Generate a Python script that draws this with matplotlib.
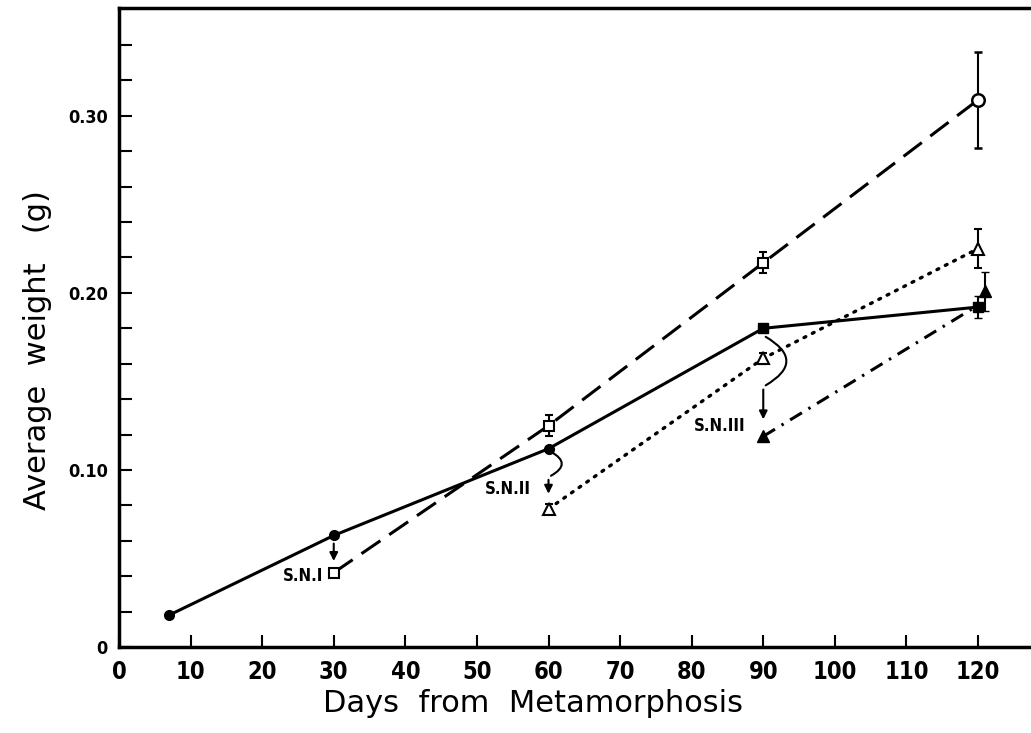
import numpy as np
import matplotlib.pyplot as plt
from matplotlib.patches import FancyArrowPatch

plt.rcParams['font.family'] = ['DejaVu Sans']

# ---- data ----
# control group (solid, filled markers)
ctrl_days = [7, 30, 60, 90, 120]
ctrl_wt = [0.018, 0.063, 0.112, 0.180, 0.192]
ctrl_err = [0, 0, 0, 0, 0.006]

# S.N. I group (long dashes, open squares / circle)
sn1_days = [30, 60, 90, 120]
sn1_wt = [0.042, 0.125, 0.217, 0.309]
sn1_err = [0, 0.006, 0.006, 0.027]

# S.N. II group (dotted, open triangles)
sn2_days = [60, 90, 120]
sn2_wt = [0.078, 0.163, 0.225]
sn2_err = [0.003, 0.003, 0.011]

# S.N. III group (dash-dot, filled triangles)
sn3_days = [90, 120]
sn3_wt = [0.119, 0.193]
sn3_end_day = 121
sn3_end_wt = 0.201
sn3_end_err = 0.011

xticks = [0, 10, 20, 30, 40, 50, 60, 70, 80, 90, 100, 110, 120]
yticks = [0, 0.10, 0.20, 0.30]
ytick_labels = ['0', '0.10', '0.20', '0.30']

tick_font = dict(family='DejaVu Sans', weight='bold', stretch='condensed')

fig = plt.figure(figsize=(10.31, 7.33), dpi=100)
ax = fig.add_axes([0.1154, 0.1173, 0.8846, 0.872])

lw = 2.2
k = 'black'

# control
ax.plot(ctrl_days, ctrl_wt, color=k, lw=lw, solid_capstyle='round')
ax.plot(ctrl_days[:3], ctrl_wt[:3], 'o', color=k, ms=7)
ax.plot(ctrl_days[3:], ctrl_wt[3:], 's', color=k, ms=7)
ax.errorbar(ctrl_days[4], ctrl_wt[4], yerr=ctrl_err[4], color=k, lw=1.5, capsize=3)

# S.N. I
ax.plot(sn1_days, sn1_wt, color=k, lw=lw, dashes=(7.5, 3.5))
ax.errorbar(sn1_days[:3], sn1_wt[:3], yerr=sn1_err[:3], fmt='s', mfc='white', mec=k,
            mew=1.5, ms=7, color=k, lw=1.5, capsize=3)
ax.errorbar(sn1_days[3], sn1_wt[3], yerr=sn1_err[3], fmt='o', mfc='white', mec=k,
            mew=1.8, ms=9, color=k, lw=1.5, capsize=3)

# S.N. II
ax.plot(sn2_days, sn2_wt, color=k, lw=2.4, dashes=(0.6, 2.2), dash_capstyle='round')
ax.errorbar(sn2_days, sn2_wt, yerr=sn2_err, fmt='^', mfc='white', mec=k, mew=1.5,
            ms=8, color=k, lw=1.5, capsize=3)

# S.N. III
ax.plot(sn3_days, sn3_wt, color=k, lw=lw, dashes=(4.5, 2.5, 0.8, 2.5))
ax.plot(sn3_days[0], sn3_wt[0], '^', color=k, ms=8)
ax.errorbar(sn3_end_day, sn3_end_wt, yerr=sn3_end_err, fmt='^', color=k, ms=9,
            lw=1.5, capsize=3)

# transfer arrows and labels
ann_font = dict(family='DejaVu Sans', weight='bold', stretch='condensed', fontsize=12)
arrow_kw = dict(arrowstyle='-|>', color=k, lw=1.5, mutation_scale=12)

ax.annotate('', xy=(30, 0.047), xytext=(30, 0.060), arrowprops=arrow_kw)
ax.text(28.5, 0.040, 'S.N.I', ha='right', va='center', **ann_font)

ax.add_patch(FancyArrowPatch((60, 0.111), (60, 0.096), connectionstyle='arc3,rad=-1.0',
                             arrowstyle='-', color=k, lw=1.5))
ax.annotate('', xy=(60, 0.085), xytext=(60, 0.096), arrowprops=arrow_kw)
ax.text(57.5, 0.089, 'S.N.II', ha='right', va='center', **ann_font)

ax.add_patch(FancyArrowPatch((90, 0.176), (90, 0.147), connectionstyle='arc3,rad=-0.9',
                             arrowstyle='-', color=k, lw=1.5))
ax.annotate('', xy=(90, 0.127), xytext=(90, 0.147), arrowprops=arrow_kw)
ax.text(87.5, 0.125, 'S.N.III', ha='right', va='center', **ann_font)

# axes styling
ax.set_xlim(0, 127.4)
ax.set_ylim(0, 0.361)
ax.set_xticks(xticks)
ax.set_xticklabels([str(t) for t in xticks], fontsize=17, **tick_font)
ax.set_yticks(yticks)
ax.set_yticklabels(ytick_labels, fontsize=13, **tick_font)
ax.set_yticks(np.arange(0, 0.36, 0.02), minor=True)
ax.tick_params(axis='both', which='both', direction='in', length=9, width=1.5)
ax.tick_params(axis='x', pad=9)
ax.tick_params(axis='y', pad=8)
for s in ['left', 'bottom', 'top']:
    ax.spines[s].set_linewidth(2.5)
ax.spines['right'].set_visible(False)

ax.set_xlabel('Days  from  Metamorphosis', fontsize=22)
ax.set_ylabel('Average  weight   (g)', fontsize=22)
ax.xaxis.set_label_coords(0.454, -0.065)
ax.yaxis.set_label_coords(-0.073, 0.465)

fig.savefig('out.png', dpi=100)
